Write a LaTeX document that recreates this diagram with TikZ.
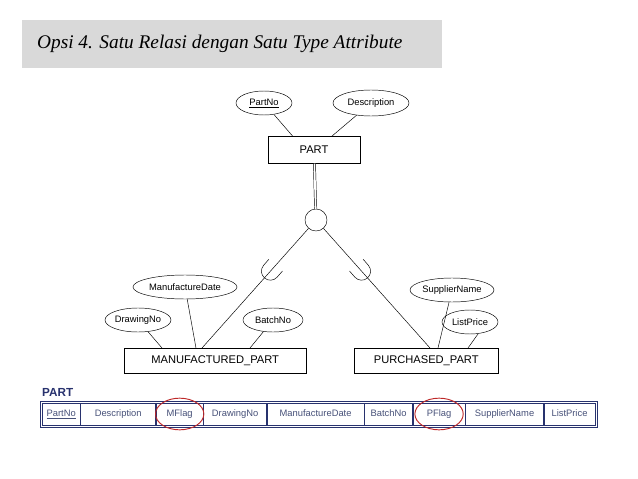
\documentclass[tikz,border=0pt]{standalone}
\usepackage{fontspec}
\setmainfont{Liberation Sans}
\newfontfamily\titlefont{Liberation Serif}
\usetikzlibrary{shapes.geometric,calc}
\definecolor{titlegray}{RGB}{217,217,217}
\definecolor{tabblue}{RGB}{40,50,110}
\definecolor{tabtext}{RGB}{70,80,120}
\definecolor{flagred}{RGB}{190,40,40}
\tikzset{
  entity/.style={draw, rectangle, inner sep=0pt, font=\fontsize{9.5}{10}\selectfont},
  attr/.style={draw, ellipse, inner sep=0pt, font=\fontsize{8}{9}\selectfont},
  cell/.style={draw=tabblue, rectangle, inner sep=0pt, minimum height=0.66cm, text height=6pt, text depth=1.5pt, text=tabtext, font=\fontsize{8}{9}\selectfont},
  flag/.style={draw=flagred, ellipse, thick, minimum width=1.45cm, minimum height=0.95cm}
}
\newcommand{\subsetcup}[2]{%
  \draw[shift={(#1)}, rotate=#2] (-8,9) -- (0,9) arc[start angle=90, end angle=-90, radius=9] -- (-8,-9);}
\begin{document}
\begin{tikzpicture}[x=0.03cm, y=0.03cm]
  \useasboundingbox (0,0) rectangle (638,-479);

  % title
  \fill[titlegray] (22,-20) rectangle (442,-68);
  \node[anchor=west, font=\titlefont\itshape\fontsize{16.5}{18}\selectfont] (title) at (33,-44) {Opsi 4. Satu Relasi dengan Satu Type Attribute};

  % entities
  \node[entity, minimum width=2.76cm, minimum height=0.81cm] (part) at (314,-150) {PART};
  \node[entity, minimum width=5.46cm, minimum height=0.75cm, anchor=north west] (mp) at (124,-348) {MANUFACTURED\_PART};
  \node[entity, minimum width=4.32cm, minimum height=0.75cm, anchor=north west] (pp) at (354,-348) {PURCHASED\_PART};

  % attributes
  \node[attr, minimum width=1.68cm, minimum height=0.72cm] (pno) at (264,-103) {\underline{PartNo}};
  \node[attr, minimum width=2.28cm, minimum height=0.78cm] (desc) at (371,-103) {Description};
  \node[attr, minimum width=3.12cm, minimum height=0.72cm] (mdate) at (185,-287) {ManufactureDate};
  \node[attr, minimum width=1.98cm, minimum height=0.72cm] (dno) at (138,-320) {DrawingNo};
  \node[attr, minimum width=1.8cm, minimum height=0.72cm] (bno) at (273,-320) {BatchNo};
  \node[attr, minimum width=2.52cm, minimum height=0.72cm] (sname) at (452,-290) {SupplierName};
  \node[attr, minimum width=1.68cm, minimum height=0.72cm] (lprice) at (470,-322) {ListPrice};

  % specialization circle
  \node[draw, circle, minimum size=0.66cm, inner sep=0pt] (spec) at (316,-220) {};

  % attribute lines
  \draw (pno) -- ($(part.north west)+(25,0)$);
  \draw (desc) -- ($(part.north west)+(64,0)$);
  \draw (dno) -- ($(mp.north west)+(38,0)$);
  \draw (mdate) -- ($(mp.north west)+(72,0)$);
  \draw (bno) -- ($(mp.north west)+(126,0)$);
  \draw (sname) -- ($(pp.north west)+(84,0)$);
  \draw (lprice.-55) -- ($(pp.north west)+(114,0)$);

  % specialization lines
  \draw[double, double distance=1.5pt] (part) -- (spec);
  \coordinate (mtop) at ($(mp.north west)+(78,0)$);
  \coordinate (ptop) at ($(pp.north west)+(76,0)$);
  \draw (spec) -- (mtop);
  \draw (spec) -- (ptop);
  \subsetcup{$(spec)!0.4!(mtop)$}{229}
  \subsetcup{$(spec)!0.4!(ptop)$}{311}

  % relation table
  \node[anchor=west, text=tabblue, font=\bfseries\fontsize{10}{11}\selectfont] (tname) at (38,-392) {PART};
  \node[cell, minimum width=1.14cm, anchor=west] (c1) at (42,-414) {\underline{PartNo}};
  \foreach \prev/\cur/\w/\txt in {c1/c2/2.25/Description, c2/c3/1.41/MFlag, c3/c4/1.89/DrawingNo,
      c4/c5/2.91/ManufactureDate, c5/c6/1.44/BatchNo, c6/c7/1.56/PFlag,
      c7/c8/2.34/SupplierName, c8/c9/1.53/ListPrice}
    \node[cell, minimum width=\w cm, anchor=west] (\cur) at (\prev.east) {\txt};
  \draw[tabblue] ($(c1.north west)+(-1.5,1.5)$) rectangle ($(c9.south east)+(1.5,-1.5)$);

  % flags
  \node[flag] (mflag) at (c3) {};
  \node[flag] (pflag) at (c7) {};

\end{tikzpicture}
\end{document}
